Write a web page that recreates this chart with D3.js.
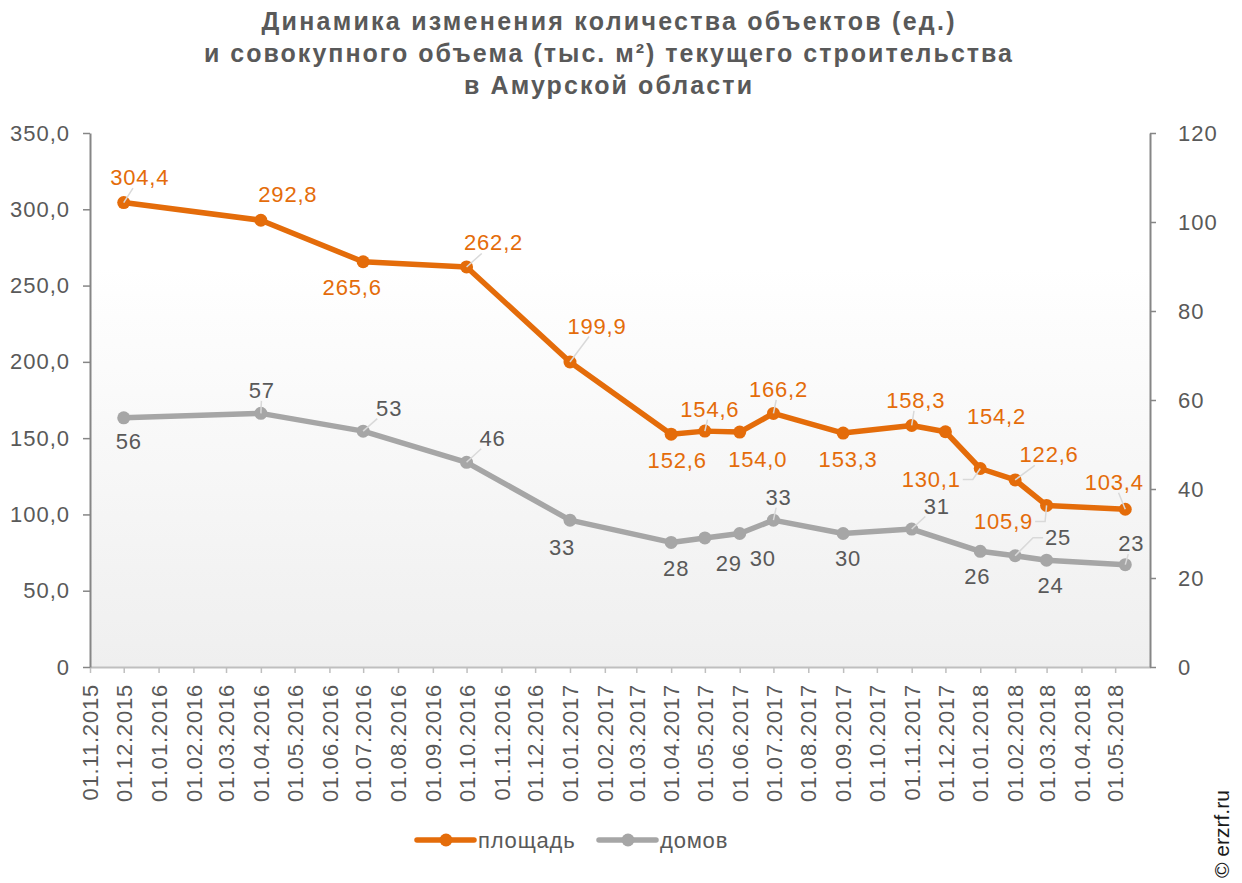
<!DOCTYPE html>
<html>
<head>
<meta charset="utf-8">
<script src="https://cdn.jsdelivr.net/npm/d3@7"></script>
<style>
  html, body { margin: 0; padding: 0; background: #fff; }
  svg { display: block; font-family: "Liberation Sans", Arial, sans-serif; }
</style>
</head>
<body>
<div id="chart"></div>
<script>
// Данные
const areaDates = ["01.12.2015","01.04.2016","01.07.2016","01.10.2016","01.01.2017","01.04.2017","01.05.2017","01.06.2017","01.07.2017","01.09.2017","01.11.2017","01.12.2017","01.01.2018","01.02.2018","01.03.2018","10.05.2018"]
const areaValues = [304.4, 292.8, 265.6, 262.2, 199.9, 152.6, 154.6, 154.0, 166.2, 153.3, 158.3, 154.2, 130.1, 122.6, 105.9, 103.4]

const houseDates = ["01.12.2015","01.04.2016","01.07.2016","01.10.2016","01.01.2017","01.04.2017","01.05.2017","01.06.2017","01.07.2017","01.09.2017","01.11.2017","01.01.2018","01.02.2018","01.03.2018","10.05.2018"]
const houseValues = [56, 57, 53, 46, 33, 28, 29, 30, 33, 30, 31, 26, 25, 24, 23]

const leftTicks = [0, 50, 100, 150, 200, 250, 300, 350]
const rightTicks = [0, 20, 40, 60, 80, 100, 120]
const axisStart = "01.11.2015"
const axisEnd = "01.06.2018"
const lastTick = "01.05.2018"

const titleLines = [
    "Динамика изменения количества объектов (ед.)",
    "и совокупного объема (тыс. м²) текущего строительства",
    "в Амурской области"
]
const seriesNames = ["площадь", "домов"]

// Размещение подписей данных (смещение центра подписи от точки, выноска)
const areaLabelPos = [
    [16, -25, 1], [27, -26, 0], [-11, 26, 0], [27, -24, 1], [27, -36, 1],
    [6, 26, 0], [5, -22, 1], [18, 27, 0], [5, -24, 1], [5, 26, 0],
    [4, -25, 1], [51, -15, 0], [-49, 11, 1], [34, -25, 1], [-43, 16, 1], [-11, -27, 1]
]
const houseLabelPos = [
    [5, 24, 0], [1, -23, 1], [26, -23, 1], [26, -24, 1], [-8, 27, 0],
    [5, 26, 0], [24, 26, 0], [23, 25, 0], [5, -23, 1], [5, 25, 0],
    [25, -23, 1], [-3, 25, 0], [43, -18, 1], [4, 25, 0], [6, -21, 1]
]

const width = 1242, height = 883
const plot = { left: 90, right: 1150, top: 133, bottom: 667 }

const orange = "#e46c0a"
const gray = "#a6a6a6"
const textColor = "#595959"

const parse = d3.timeParse("%d.%m.%Y")
const fmtTick = d3.timeFormat("%d.%m.%Y")
const comma = v => v === 0 ? "0" : d3.format(".1f")(v).replace(".", ",")

const svg = d3.select("#chart")
    .append("svg")
    .attr("width", width)
    .attr("height", height)
    .attr("viewBox", [0, 0, width, height])

// Фон области построения
const defs = svg.append("defs")
const grad = defs.append("linearGradient")
    .attr("id", "plotBg")
    .attr("x1", 0).attr("y1", 0).attr("x2", 0).attr("y2", 1)
grad.append("stop").attr("offset", "0%").attr("stop-color", "#ffffff")
grad.append("stop").attr("offset", "25%").attr("stop-color", "#ffffff")
grad.append("stop").attr("offset", "100%").attr("stop-color", "#efefef")

svg.append("rect")
    .attr("x", plot.left)
    .attr("y", plot.top)
    .attr("width", plot.right - plot.left)
    .attr("height", plot.bottom - plot.top)
    .attr("fill", "url(#plotBg)")

// Заголовок
const titleLen = [693, 808, 288]
svg.append("g")
    .selectAll("text")
    .data(titleLines)
    .join("text")
    .attr("x", 608)
    .attr("y", (d, i) => 30 + i * 32)
    .attr("text-anchor", "middle")
    .attr("fill", textColor)
    .style("font-size", "25px")
    .style("font-weight", "bold")
    .attr("textLength", (d, i) => titleLen[i])
    .attr("lengthAdjust", "spacing")
    .text(d => d)

// Шкалы
const x = d3.scaleTime()
    .domain([parse(axisStart), parse(axisEnd)])
    .range([plot.left, plot.right])

const yLeft = d3.scaleLinear()
    .domain([0, 350])
    .range([plot.bottom, plot.top])

const yRight = d3.scaleLinear()
    .domain([0, 120])
    .range([plot.bottom, plot.top])

// Оси
const axisColor = "#868686"
const monthTicks = d3.timeMonth.range(parse(axisStart), d3.timeDay.offset(parse(lastTick), 1))

svg.append("g")
    .attr("transform", `translate(0,${plot.bottom})`)
    .call(d3.axisBottom(x)
        .tickValues(monthTicks)
        .tickFormat(fmtTick)
        .tickSize(6)
        .tickSizeOuter(0))
    .call(g => g.select(".domain").attr("stroke", "#bfbfbf").attr("stroke-width", 2))
    .call(g => g.selectAll(".tick line").attr("stroke", "#bfbfbf").attr("stroke-width", 1.5))
    .call(g => g.selectAll(".tick text")
        .attr("transform", "rotate(-90)")
        .attr("text-anchor", "end")
        .attr("x", -17)
        .attr("y", 0)
        .attr("dy", "0.35em")
        .attr("fill", textColor)
        .style("font-size", "22px")
        .style("letter-spacing", "0.8px")
        .style("font-family", "'Liberation Sans', Arial, sans-serif"))

svg.append("g")
    .attr("transform", `translate(${plot.left},0)`)
    .call(d3.axisLeft(yLeft)
        .tickValues(leftTicks)
        .tickFormat(comma)
        .tickSize(7)
        .tickPadding(13)
        .tickSizeOuter(0))
    .call(g => g.select(".domain").attr("stroke", axisColor).attr("stroke-width", 2))
    .call(g => g.selectAll(".tick line").attr("stroke", axisColor).attr("stroke-width", 1.5))
    .call(g => g.selectAll(".tick text")
        .attr("fill", textColor)
        .style("font-size", "22px")
        .style("letter-spacing", "1px")
        .style("font-family", "'Liberation Sans', Arial, sans-serif"))

svg.append("g")
    .attr("transform", `translate(${plot.right},0)`)
    .call(d3.axisRight(yRight)
        .tickValues(rightTicks)
        .tickFormat(d3.format("d"))
        .tickSize(6)
        .tickPadding(22)
        .tickSizeOuter(0))
    .call(g => g.select(".domain").attr("stroke", axisColor).attr("stroke-width", 2))
    .call(g => g.selectAll(".tick line").attr("stroke", axisColor).attr("stroke-width", 1.5))
    .call(g => g.selectAll(".tick text")
        .attr("fill", textColor)
        .style("font-size", "22px")
        .style("letter-spacing", "1px")
        .style("font-family", "'Liberation Sans', Arial, sans-serif"))

// Серии
const areaData = areaDates.map((d, i) => ({ date: parse(d), value: areaValues[i], pos: areaLabelPos[i] }))
const houseData = houseDates.map((d, i) => ({ date: parse(d), value: houseValues[i], pos: houseLabelPos[i] }))

const series = [
    { data: houseData, y: yRight, color: gray, label: textColor, fmt: d3.format("d") },
    { data: areaData, y: yLeft, color: orange, label: orange, fmt: comma }
]

series.forEach(s => {
    const line = d3.line()
        .x(d => x(d.date))
        .y(d => s.y(d.value))

    svg.append("path")
        .datum(s.data)
        .attr("fill", "none")
        .attr("stroke", s.color)
        .attr("stroke-width", 5.5)
        .attr("stroke-linejoin", "round")
        .attr("d", line)

    svg.append("g")
        .selectAll("circle")
        .data(s.data)
        .join("circle")
        .attr("cx", d => x(d.date))
        .attr("cy", d => s.y(d.value))
        .attr("r", 6.5)
        .attr("fill", s.color)
})

// Подписи данных и выноски
series.forEach(s => {
    const leaders = svg.append("g")
    const labels = svg.append("g")
    s.data.forEach(d => {
        const px = x(d.date), py = s.y(d.value)
        const [dx, dy, lead] = d.pos
        const cx = px + dx, cy = py + dy
        const t = labels.append("text")
            .attr("x", cx)
            .attr("y", cy)
            .attr("text-anchor", "middle")
            .attr("dominant-baseline", "central")
            .attr("fill", s.label)
            .style("font-size", "22px")
            .style("letter-spacing", "0.8px")
            .text(s.fmt(d.value))
        if (!lead) return
        const bb = t.node().getBBox()
        const hw = bb.width / 2 + 2, hh = bb.height / 2 - 2
        if (Math.abs(dx) > hw && Math.abs(dy) <= hh + 8) {
            // выноска сбоку: горизонтальный отрезок
            const sx = dx > 0 ? cx - hw : cx + hw
            const stub = dx > 0 ? sx - 10 : sx + 10
            leaders.append("path")
                .attr("d", `M${px},${py}L${stub},${cy}H${sx}`)
                .attr("fill", "none")
                .attr("stroke", "#d9d9d9")
                .attr("stroke-width", 1.5)
            return
        }
        // точка пересечения отрезка с рамкой подписи
        const k = Math.min(
            Math.abs(dx) > 0 ? hw / Math.abs(dx) : Infinity,
            Math.abs(dy) > 0 ? hh / Math.abs(dy) : Infinity)
        const ex = cx - dx * k, ey = cy - dy * k
        leaders.append("line")
            .attr("x1", px).attr("y1", py)
            .attr("x2", ex).attr("y2", ey)
            .attr("stroke", "#d9d9d9")
            .attr("stroke-width", 1.5)
    })
})

// Легенда
const legend = svg.append("g")
const legendItems = [
    { name: seriesNames[0], color: orange, x: 417 },
    { name: seriesNames[1], color: gray, x: 599 }
]
legendItems.forEach(it => {
    legend.append("line")
        .attr("x1", it.x).attr("x2", it.x + 57)
        .attr("y1", 840).attr("y2", 840)
        .attr("stroke", it.color)
        .attr("stroke-width", 5.5)
        .attr("stroke-linecap", "round")
    legend.append("circle")
        .attr("cx", it.x + 29).attr("cy", 840)
        .attr("r", 6.5)
        .attr("fill", it.color)
    legend.append("text")
        .attr("x", it.x + 61)
        .attr("y", 840)
        .attr("dominant-baseline", "central")
        .attr("fill", textColor)
        .style("font-size", "22px")
        .style("letter-spacing", "0.8px")
        .text(it.name)
})

// Копирайт
svg.append("text")
    .attr("transform", "translate(1221,878) rotate(-90)")
    .attr("dominant-baseline", "central")
    .attr("fill", "#1a1a1a")
    .style("font-size", "21px")
    .text("© erzrf.ru")
</script>
</body>
</html>
